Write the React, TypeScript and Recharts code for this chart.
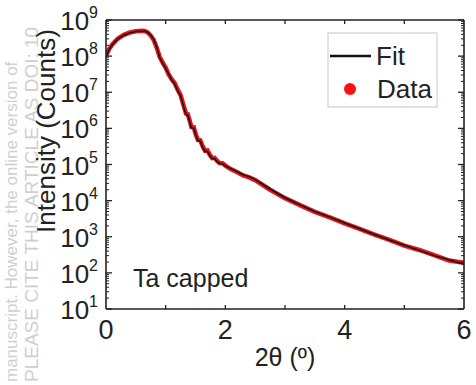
import { ComposedChart, Line, XAxis, YAxis } from 'recharts'

const FONT = '"Liberation Sans", Arial, sans-serif'
const INK = '#222'
const RED = '#e3141b'

// 2θ in degrees
const twoTheta = [
  0, 0.05, 0.1, 0.15, 0.2, 0.3, 0.4, 0.5, 0.6, 0.65, 0.7, 0.75, 0.8, 0.85, 0.9, 0.95,
  1.0, 1.05, 1.1, 1.15, 1.2, 1.25, 1.3, 1.34, 1.37, 1.4, 1.43, 1.47, 1.5, 1.54, 1.58,
  1.62, 1.66, 1.7, 1.74, 1.78, 1.82, 1.86, 1.9, 1.95, 2.0, 2.05, 2.1, 2.2, 2.3, 2.4,
  2.5, 2.75, 3.0, 3.25, 3.5, 3.75, 4.0, 4.25, 4.5, 4.75, 5.0, 5.25, 5.5, 5.75, 6.0,
]

const fitCounts = [
  9.5e7, 1.5e8, 2.0e8, 2.5e8, 3.0e8, 3.8e8, 4.4e8, 4.8e8, 4.9e8, 4.9e8, 4.6e8, 3.8e8, 2.9e8, 1.8e8, 9.0e7, 6.3e7,
  4.6e7, 3.2e7, 2.2e7, 1.7e7, 1.1e7, 7.9e6, 4.0e6, 2.4e6, 2.3e6, 1.6e6, 1.05e6, 1.0e6, 6.9e5, 4.6e5, 4.4e5,
  3.0e5, 2.3e5, 2.3e5, 1.75e5, 1.45e5, 1.45e5, 1.22e5, 1.08e5, 1.05e5, 9.1e4, 8.3e4, 7.6e4, 6.3e4, 5.2e4, 4.6e4,
  3.8e4, 2.1e4, 1.2e4, 7.6e3, 5.0e3, 3.5e3, 2.4e3, 1.66e3, 1.15e3, 8.1e2, 5.8e2, 4.2e2, 3.0e2, 2.3e2, 1.74e2,
]

const dataCounts = [
  1.0e8, 1.55e8, 2.05e8, 2.55e8, 3.05e8, 3.9e8, 4.5e8, 4.9e8, 5.0e8, 4.95e8, 4.5e8, 3.7e8, 2.8e8, 1.7e8, 9.5e7, 6.6e7,
  4.8e7, 3.1e7, 2.3e7, 1.8e7, 1.2e7, 8.3e6, 4.3e6, 2.6e6, 2.5e6, 1.7e6, 1.1e6, 1.08e6, 7.2e5, 4.8e5, 4.7e5,
  3.2e5, 2.4e5, 2.45e5, 1.85e5, 1.5e5, 1.53e5, 1.27e5, 1.1e5, 1.08e5, 9.3e4, 8.2e4, 7.4e4, 6.1e4, 5.0e4, 4.4e4,
  3.7e4, 2.0e4, 1.17e4, 7.5e3, 4.9e3, 3.45e3, 2.35e3, 1.65e3, 1.15e3, 8.2e2, 5.7e2, 4.3e2, 3.1e2, 2.2e2, 1.9e2,
]

const xLabelTicks = [0, 2, 4, 6]
const xAllTicks = [0, 1, 2, 3, 4, 5, 6]
const yTicks = [1e1, 1e2, 1e3, 1e4, 1e5, 1e6, 1e7, 1e8, 1e9]
const yMinorTicks = yTicks.slice(0, -1).flatMap(d => [2, 3, 4, 5, 6, 7, 8, 9].map(m => m * d))
const yAllTicks = [...yTicks, ...yMinorTicks].sort((a, b) => a - b)

const rows = twoTheta.map((x, i) => ({ x, fit: fitCounts[i], data: dataCounts[i] }))

const isMajorY = (v: number) => yTicks.includes(v)

// left axis: inward tick line + 10^n label for decades
function LeftTick(props: any) {
  const { x, y, payload } = props
  const major = isMajorY(payload.value)
  const exp = Math.round(Math.log10(payload.value))
  return (
    <g>
      <line x1={x} y1={y} x2={x + (major ? 6 : 3)} y2={y} stroke={INK} strokeWidth={major ? 1.3 : 1} />
      {major && (
        <text x={x - 8} y={y + 10} textAnchor="end" fill={INK} fontSize={26} fontFamily={FONT}>
          <tspan>10</tspan>
          <tspan dy={-12} fontSize={16}>{exp}</tspan>
        </text>
      )}
    </g>
  )
}

function RightTick(props: any) {
  const { x, y, payload } = props
  const major = isMajorY(payload.value)
  return <line x1={x} y1={y} x2={x - (major ? 6 : 3)} y2={y} stroke={INK} strokeWidth={major ? 1.3 : 1} />
}

function BottomTick(props: any) {
  const { x, y, payload } = props
  const v = payload.value
  return (
    <g>
      {v > 0 && v < 6 && <line x1={x} y1={y} x2={x} y2={y - 4} stroke={INK} strokeWidth={1.3} />}
      {xLabelTicks.includes(v) && (
        <text x={x} y={y + 30} textAnchor="middle" fill={INK} fontSize={27} fontFamily={FONT}>{v}</text>
      )}
    </g>
  )
}

function TopTick(props: any) {
  const { x, y, payload } = props
  const v = payload.value
  if (v <= 0 || v >= 6) return null
  return <line x1={x} y1={y} x2={x} y2={y + 4} stroke={INK} strokeWidth={1.3} />
}

const frame = { stroke: INK, strokeWidth: 1.6 }

export default function App() {
  return (
    <div style={{ position: 'absolute', left: 0, top: 0, width: 476, height: 385, background: '#fff', overflow: 'hidden' }}>
      <svg width={476} height={385} style={{ position: 'absolute', left: 0, top: 0 }}>
        <text transform="translate(17,382) rotate(-90)" fill="#cfcfcf" fontSize={17} fontFamily={FONT}>
          manuscript. However, the online version of
        </text>
        <text transform="translate(38,382) rotate(-90)" fill="#cfcfcf" fontSize={19} fontFamily={FONT}>
          PLEASE CITE THIS ARTICLE AS DOI: 10
        </text>
      </svg>

      <div style={{ position: 'absolute', left: 0, top: 0 }}>
        <ComposedChart width={476} height={385} data={rows} margin={{ top: 0, right: 0, left: 0, bottom: 0 }}>
          <XAxis xAxisId="main" dataKey="x" type="number" domain={[0, 6]} allowDataOverflow ticks={xAllTicks} interval={0}
            tickSize={0} tickMargin={0} tickLine={false} axisLine={frame} height={76} tick={<BottomTick />}
            label={{ value: '2θ (º)', position: 'insideBottom', offset: 19, fontSize: 25, fill: INK, fontFamily: FONT }} />
          <XAxis xAxisId="top" dataKey="x" orientation="top" type="number" domain={[0, 6]} allowDataOverflow ticks={xAllTicks} interval={0}
            tickSize={0} tickMargin={0} tickLine={false} axisLine={frame} height={20} tick={<TopTick />} />

          <YAxis yAxisId="main" dataKey="fit" type="number" scale="log" domain={[10, 1e9]} allowDataOverflow ticks={yAllTicks} interval={0}
            tickSize={0} tickMargin={0} tickLine={false} axisLine={frame} width={106} tick={<LeftTick />} />
          <YAxis yAxisId="right" dataKey="fit" orientation="right" type="number" scale="log" domain={[10, 1e9]} allowDataOverflow ticks={yAllTicks} interval={0}
            tickSize={0} tickMargin={0} tickLine={false} axisLine={frame} width={12} tick={<RightTick />} />

          <Line xAxisId="main" yAxisId="main" type="linear" dataKey="data" stroke={RED} strokeWidth={4.5}
            dot={false} isAnimationActive={false} />
          <Line xAxisId="main" yAxisId="main" type="linear" dataKey="fit" stroke="#111" strokeWidth={1.5}
            dot={false} isAnimationActive={false} />
        </ComposedChart>
      </div>

      <svg width={476} height={385} style={{ position: 'absolute', left: 0, top: 0, pointerEvents: 'none' }}>
        <text transform="translate(55,131) rotate(-90)" textAnchor="middle" fill={INK} fontSize={26} fontFamily={FONT}>
          Intensity (Counts)
        </text>
        <text x={133} y={287} fill={INK} fontSize={25} fontFamily={FONT}>Ta capped</text>
        <rect x={328} y={33} width={109} height={74} fill="#fff" stroke="#c8c8c8" strokeWidth={1} />
        <line x1={330} y1={56} x2={371} y2={56} stroke="#111" strokeWidth={2.5} />
        <text x={376} y={65} fill={INK} fontSize={26} fontFamily={FONT}>Fit</text>
        <circle cx={350} cy={89} r={6} fill="#ff1010" />
        <text x={377} y={98} fill={INK} fontSize={26} fontFamily={FONT}>Data</text>
      </svg>
    </div>
  )
}
